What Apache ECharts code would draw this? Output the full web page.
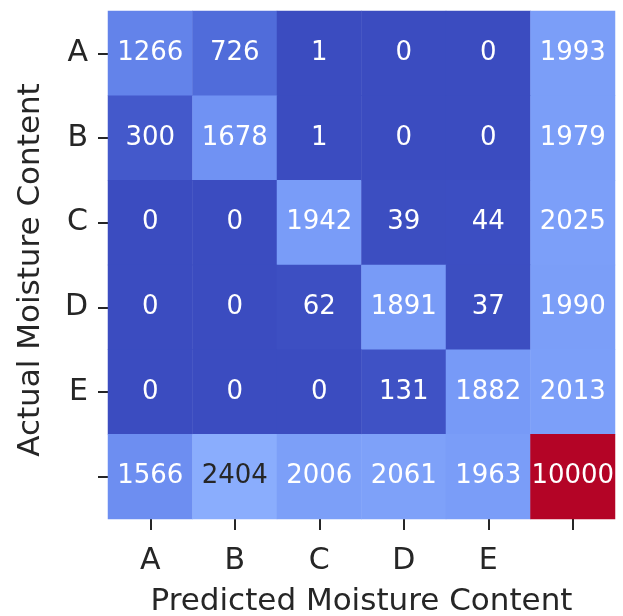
<!DOCTYPE html>
<html>
<head>
<meta charset="utf-8">
<script src="https://cdn.jsdelivr.net/npm/echarts@6/dist/echarts.min.js"></script>
<style>
html,body{margin:0;padding:0;background:#fff;}
#c{width:623px;height:616px;}
</style>
</head>
<body>
<div id="c"></div>
<script>
var xCategories = ['A', 'B', 'C', 'D', 'E', ''];
var yCategories = ['A', 'B', 'C', 'D', 'E', ''];
var rowA = [1266, 726, 1, 0, 0, 1993];
var rowB = [300, 1678, 1, 0, 0, 1979];
var rowC = [0, 0, 1942, 39, 44, 2025];
var rowD = [0, 0, 62, 1891, 37, 1990];
var rowE = [0, 0, 0, 131, 1882, 2013];
var rowTotal = [1566, 2404, 2006, 2061, 1963, 10000];
var xTitle = 'Predicted Moisture Content';
var yTitle = 'Actual Moisture Content';

var rows = [rowA, rowB, rowC, rowD, rowE, rowTotal];
var vmin = 0, vmax = 10000;
var coolwarm = ['#3b4cc0','#4d68d7','#6282ea','#779af7','#8db0fe','#a3c2ff','#b8d0f9','#ccd9ee','#dddddd',
                '#ecd3c5','#f5c4ad','#f7b194','#f49a7b','#ec7f63','#de604d','#cb3e38','#b40426'];

var data = [];
rows.forEach(function (r, yi) {
  r.forEach(function (v, xi) {
    var t = (v - vmin) / (vmax - vmin);
    var dark = t > 0.22 && t < 0.78;
    data.push({ value: [xi, yi, v], label: { color: dark ? '#262626' : '#ffffff' } });
  });
});

var chart = echarts.init(document.getElementById('c'), null, { renderer: 'canvas' });
var font = '"DejaVu Sans", sans-serif';
chart.setOption({
  animation: false,
  backgroundColor: '#ffffff',
  grid: { left: 108, top: 11, width: 507, height: 508, containLabel: false, outerBoundsMode: 'none' },
  xAxis: {
    type: 'category',
    data: xCategories,
    position: 'bottom',
    name: xTitle,
    nameLocation: 'middle',
    nameGap: 67,
    nameTextStyle: { fontFamily: font, fontSize: 31, color: '#262626' },
    axisLine: { show: false },
    axisTick: { show: true, alignWithLabel: true, length: 11, lineStyle: { color: '#262626', width: 2 } },
    axisLabel: { fontFamily: font, fontSize: 30, color: '#262626', margin: 27 },
    splitLine: { show: false }
  },
  yAxis: {
    type: 'category',
    data: yCategories,
    inverse: true,
    name: yTitle,
    nameLocation: 'middle',
    nameGap: 62,
    nameRotate: 90,
    nameTextStyle: { fontFamily: font, fontSize: 31, color: '#262626', padding: [0, 10, 0, 0] },
    axisLine: { show: false },
    axisTick: { show: true, alignWithLabel: true, length: 10, lineStyle: { color: '#262626', width: 2 } },
    axisLabel: { fontFamily: font, fontSize: 30, color: '#262626', margin: 20 },
    splitLine: { show: false }
  },
  visualMap: {
    show: false,
    type: 'continuous',
    min: vmin,
    max: vmax,
    dimension: 2,
    inRange: { color: coolwarm }
  },
  series: [{
    type: 'heatmap',
    data: data,
    label: { show: true, fontFamily: font, fontSize: 26 },
    itemStyle: { borderWidth: 0 },
    emphasis: { disabled: true }
  }]
});
</script>
</body>
</html>
